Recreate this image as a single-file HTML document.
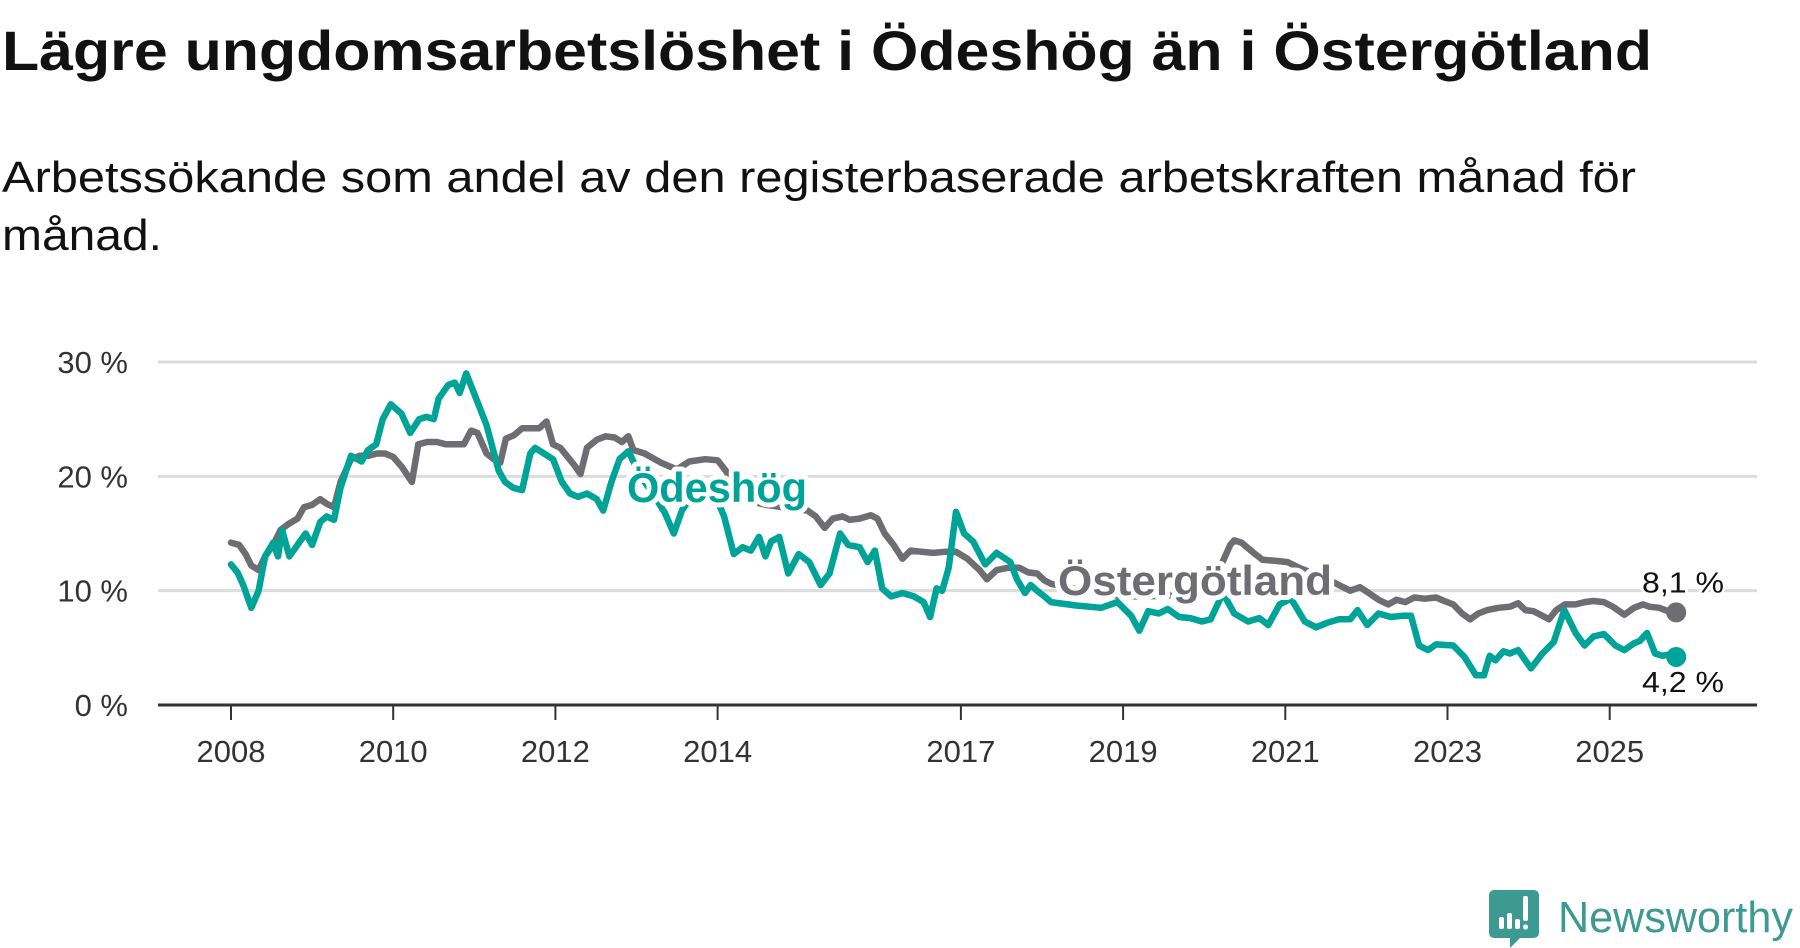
<!DOCTYPE html>
<html><head><meta charset="utf-8"><style>
html,body{margin:0;padding:0;background:#fff;}
svg{display:block;font-family:"Liberation Sans",sans-serif;}
</style></head><body>
<svg id="chart" width="1800" height="948" viewBox="0 0 1800 948" xmlns="http://www.w3.org/2000/svg">
<text x="2" y="70" font-size="56" font-weight="bold" fill="#111" textLength="1650" lengthAdjust="spacingAndGlyphs">Lägre ungdomsarbetslöshet i Ödeshög än i Östergötland</text>
<text x="2" y="192" font-size="44" fill="#111" textLength="1634" lengthAdjust="spacingAndGlyphs">Arbetssökande som andel av den registerbaserade arbetskraften månad för</text>
<text x="2" y="250" font-size="44" fill="#111" textLength="160" lengthAdjust="spacingAndGlyphs">månad.</text>
<g id="grid"></g>
<g id="yaxis"></g>
<g id="xaxis"></g>
<g id="series"></g>
<g id="labels"></g>
<g>
<path d="M1494 890 h40 a5 5 0 0 1 5 5 v38 a5 5 0 0 1 -5 5 h-14 l-10 10 v-10 h-16 a5 5 0 0 1 -5 -5 v-38 a5 5 0 0 1 5 -5z" fill="#3d9a92"/>
<rect x="1499" y="917" width="5" height="12" rx="2" fill="#fff"/>
<rect x="1507" y="913" width="5" height="16" rx="2" fill="#fff"/>
<rect x="1515" y="919" width="5" height="10" rx="2" fill="#fff"/>
<rect x="1523" y="896" width="5" height="25" rx="2" fill="#fff"/>
<circle cx="1525.5" cy="927" r="2.6" fill="#fff"/>
<text x="1558" y="932" font-size="44" fill="#3d9a92" textLength="235" lengthAdjust="spacingAndGlyphs">Newsworthy</text>
</g>
</svg>
<script>
const yTicks = [0, 10, 20, 30];
const yTickLabels = ["0 %", "10 %", "20 %", "30 %"];
const xTicks = [2008, 2010, 2012, 2014, 2017, 2019, 2021, 2023, 2025];
const xTickLabels = ["2008", "2010", "2012", "2014", "2017", "2019", "2021", "2023", "2025"];

const odesDates = [
2008.0,2008.08,2008.15,2008.25,2008.34,2008.42,2008.52,2008.58,2008.63,2008.72,
2008.82,2008.92,2009.0,2009.1,2009.18,2009.27,2009.35,2009.48,2009.61,2009.69,
2009.79,2009.87,2009.97,2010.1,2010.21,2010.32,2010.41,2010.5,2010.56,2010.68,
2010.76,2010.82,2010.9,2011.04,2011.15,2011.3,2011.38,2011.48,2011.59,2011.69,
2011.75,2011.86,2011.97,2012.08,2012.18,2012.28,2012.39,2012.51,2012.59,2012.69,
2012.79,2012.9,2013.05,2013.2,2013.35,2013.46,2013.56,2013.75,2013.99,2014.08,
2014.2,2014.31,2014.41,2014.51,2014.59,2014.66,2014.76,2014.87,2015.0,2015.13,
2015.27,2015.38,2015.51,2015.61,2015.75,2015.85,2015.94,2016.03,2016.14,2016.28,
2016.42,2016.54,2016.62,2016.7,2016.77,2016.85,2016.94,2017.04,2017.15,2017.3,
2017.44,2017.61,2017.69,2017.79,2017.86,2017.94,2018.03,2018.11,2018.42,2018.73,
2018.93,2019.1,2019.2,2019.31,2019.44,2019.55,2019.69,2019.83,2019.97,2020.08,
2020.23,2020.37,2020.54,2020.68,2020.79,2020.93,2021.07,2021.24,2021.38,2021.52,
2021.66,2021.8,2021.89,2022.01,2022.15,2022.3,2022.44,2022.55,2022.65,2022.76,
2022.86,2023.07,2023.21,2023.35,2023.45,2023.52,2023.59,2023.69,2023.77,2023.87,
2024.03,2024.17,2024.31,2024.44,2024.58,2024.69,2024.8,2024.93,2025.07,2025.18,
2025.3,2025.37,2025.46,2025.56,2025.65,2025.72,2025.82];
const odesValues = [
12.3,11.6,10.5,8.5,10.0,13.0,14.2,13.0,15.3,13.0,
14.0,15.0,14.0,16.0,16.5,16.2,19.0,21.8,21.3,22.3,
22.8,25.0,26.3,25.5,23.8,25.0,25.2,25.0,26.8,28.0,
28.2,27.3,29.0,26.5,24.5,20.5,19.5,19.0,18.8,22.0,
22.5,22.0,21.5,19.5,18.5,18.2,18.5,18.0,17.0,19.5,
21.5,22.2,20.0,18.5,16.8,15.0,17.0,19.0,18.0,16.5,
13.2,13.8,13.5,14.7,13.0,14.3,14.7,11.5,13.2,12.5,
10.5,11.5,15.0,14.0,13.8,12.5,13.5,10.2,9.5,9.8,
9.5,9.0,7.7,10.2,10.0,12.0,16.9,15.0,14.3,12.3,
13.3,12.5,11.0,9.8,10.5,10.0,9.5,9.0,8.7,8.5,
9.0,7.8,6.5,8.2,8.0,8.4,7.7,7.6,7.3,7.5,
9.8,8.0,7.3,7.6,7.0,8.8,9.3,7.3,6.8,7.2,
7.5,7.5,8.3,7.0,8.0,7.7,7.8,7.8,5.2,4.8,
5.3,5.2,4.2,2.6,2.6,4.3,3.9,4.7,4.5,4.8,
3.2,4.5,5.5,8.3,6.3,5.2,6.0,6.2,5.2,4.8,
5.4,5.6,6.3,4.5,4.3,4.4,4.2];

const ostDates = [
2008.0,2008.1,2008.18,2008.25,2008.34,2008.42,2008.52,2008.61,2008.7,2008.82,
2008.9,2009.0,2009.1,2009.18,2009.27,2009.35,2009.48,2009.59,2009.69,2009.8,
2009.9,2010.0,2010.11,2010.23,2010.31,2010.42,2010.54,2010.65,2010.76,2010.87,
2010.96,2011.04,2011.15,2011.24,2011.32,2011.39,2011.49,2011.59,2011.69,2011.8,
2011.89,2011.97,2012.06,2012.14,2012.23,2012.31,2012.39,2012.51,2012.62,2012.73,
2012.82,2012.9,2012.96,2013.1,2013.3,2013.5,2013.65,2013.85,2014.0,2014.1,
2014.3,2014.6,2014.9,2015.11,2015.21,2015.32,2015.42,2015.54,2015.63,2015.75,
2015.89,2015.97,2016.06,2016.17,2016.28,2016.38,2016.52,2016.66,2016.8,2016.94,
2017.08,2017.23,2017.32,2017.44,2017.58,2017.72,2017.83,2017.94,2018.03,2018.11,
2018.4,2018.7,2019.0,2019.3,2019.6,2019.9,2020.1,2020.32,2020.37,2020.46,
2020.61,2020.72,2020.89,2021.03,2021.17,2021.52,2021.66,2021.8,2021.92,2022.03,
2022.15,2022.27,2022.37,2022.48,2022.59,2022.72,2022.86,2022.96,2023.07,2023.18,
2023.28,2023.38,2023.49,2023.63,2023.77,2023.87,2023.96,2024.06,2024.17,2024.25,
2024.34,2024.45,2024.58,2024.69,2024.8,2024.93,2025.04,2025.18,2025.3,2025.41,
2025.49,2025.61,2025.72,2025.82];
const ostValues = [
14.2,14.0,13.2,12.2,11.8,13.0,14.0,15.3,15.8,16.3,
17.3,17.5,18.0,17.6,17.3,19.5,21.5,21.8,21.8,22.0,
22.0,21.7,20.8,19.5,22.8,23.0,23.0,22.8,22.8,22.8,
24.0,23.8,22.0,21.5,21.2,23.3,23.6,24.2,24.2,24.2,
24.8,22.8,22.5,21.8,21.0,20.2,22.5,23.2,23.5,23.4,
23.0,23.5,22.3,22.0,21.2,20.6,21.3,21.5,21.4,20.5,
18.0,17.5,17.2,17.0,16.5,15.5,16.3,16.5,16.2,16.3,
16.6,16.3,15.0,14.0,12.8,13.5,13.4,13.3,13.4,13.4,
12.8,11.8,11.0,11.8,12.0,12.0,11.6,11.5,10.9,10.6,
10.2,9.8,9.5,9.5,9.6,9.8,10.5,14.0,14.4,14.2,
13.3,12.7,12.6,12.5,12.0,11.0,10.5,10.0,10.3,9.8,
9.2,8.8,9.2,9.0,9.4,9.3,9.4,9.1,8.8,8.0,
7.5,8.0,8.3,8.5,8.6,8.9,8.3,8.2,7.8,7.5,
8.3,8.8,8.8,9.0,9.1,9.0,8.6,7.9,8.5,8.8,
8.6,8.5,8.2,8.1];

const NS = "http://www.w3.org/2000/svg";
const plotL = 158, plotR = 1757, yTop = 362, yBot = 705;
const yMax = 30;
function xScale(yr){ return 231 + (yr - 2008) * 81.1; }
function yScale(v){ return yBot - (v / yMax) * (yBot - yTop); }
function mk(tag, attrs, parent){ const e = document.createElementNS(NS, tag); for (const k in attrs) e.setAttribute(k, attrs[k]); parent.appendChild(e); return e; }

const grid = document.getElementById('grid');
const yaxis = document.getElementById('yaxis');
yTicks.forEach((t, i) => {
  if (t > 0) {
    const l = mk('line', {x1: plotL, x2: plotR, y1: yScale(t), y2: yScale(t), stroke: '#dcdcdc', 'stroke-width': 3}, grid);
    
    
  }
  const tx = mk('text', {x: 128, y: yScale(t) + 11, 'text-anchor': 'end', 'font-size': 31, fill: '#333'}, yaxis);
  tx.textContent = yTickLabels[i];
  
  
});
const xaxis = document.getElementById('xaxis');
const axl = mk('line', {x1: plotL, x2: plotR, y1: yBot, y2: yBot, stroke: '#333', 'stroke-width': 3}, xaxis);


xTicks.forEach((t, i) => {
  const x = xScale(t);
  const tk = mk('line', {x1: x, x2: x, y1: yBot, y2: yBot + 15, stroke: '#333', 'stroke-width': 2}, xaxis);
  
  
  const tx = mk('text', {x: x, y: 762, 'text-anchor': 'middle', 'font-size': 31, fill: '#333'}, xaxis);
  tx.textContent = xTickLabels[i];
  
  
});

const series = document.getElementById('series');
function drawLine(dates, vals, color, name){
  const n = Math.min(dates.length, vals.length);
  let d = '';
  for (let i = 0; i < n; i++) d += (i ? 'L' : 'M') + xScale(dates[i]).toFixed(1) + ' ' + yScale(vals[i]).toFixed(1) + ' ';
  const p = mk('path', {d: d.trim(), fill: 'none', stroke: color, 'stroke-width': 6.5, 'stroke-linejoin': 'round', 'stroke-linecap': 'round'}, series);
  
  
  const c = mk('circle', {cx: xScale(dates[n-1]), cy: yScale(vals[n-1]), r: 10, fill: color}, series);
  
  
  return {x: xScale(dates[n-1]), y: yScale(vals[n-1]), v: vals[n-1]};
}
const gEnd = drawLine(ostDates, ostValues, '#6e6d72', 'ostergotland-line');
const tEnd = drawLine(odesDates, odesValues, '#00a398', 'odeshog-line');

const labels = document.getElementById('labels');
function lab(txt, x, y, size, color, weight, name, len, sw){
  const t = mk('text', {x: x, y: y, 'font-size': size, fill: color, 'font-weight': weight, stroke: '#fff', 'stroke-width': sw, 'paint-order': 'stroke', 'stroke-linejoin': 'round'}, labels);
  if (len) { t.setAttribute('textLength', len); t.setAttribute('lengthAdjust', 'spacingAndGlyphs'); }
  t.textContent = txt;
  
  
}
lab('Ödeshög', 627, 502, 42, '#00a398', 'bold', 'odeshog-label', 180, 10);
lab('Östergötland', 1058, 595, 42, '#6e6d72', 'bold', 'ostergotland-label', 274, 10);
function fmt(v){ return v.toFixed(1).replace('.', ',') + ' %'; }
lab(fmt(gEnd.v), 1642, gEnd.y - 20, 29, '#111', 'normal', 'ostergotland-end-value', 82, 5);
lab(fmt(tEnd.v), 1642, tEnd.y + 35, 29, '#111', 'normal', 'odeshog-end-value', 82, 4);
</script>
</body></html>
